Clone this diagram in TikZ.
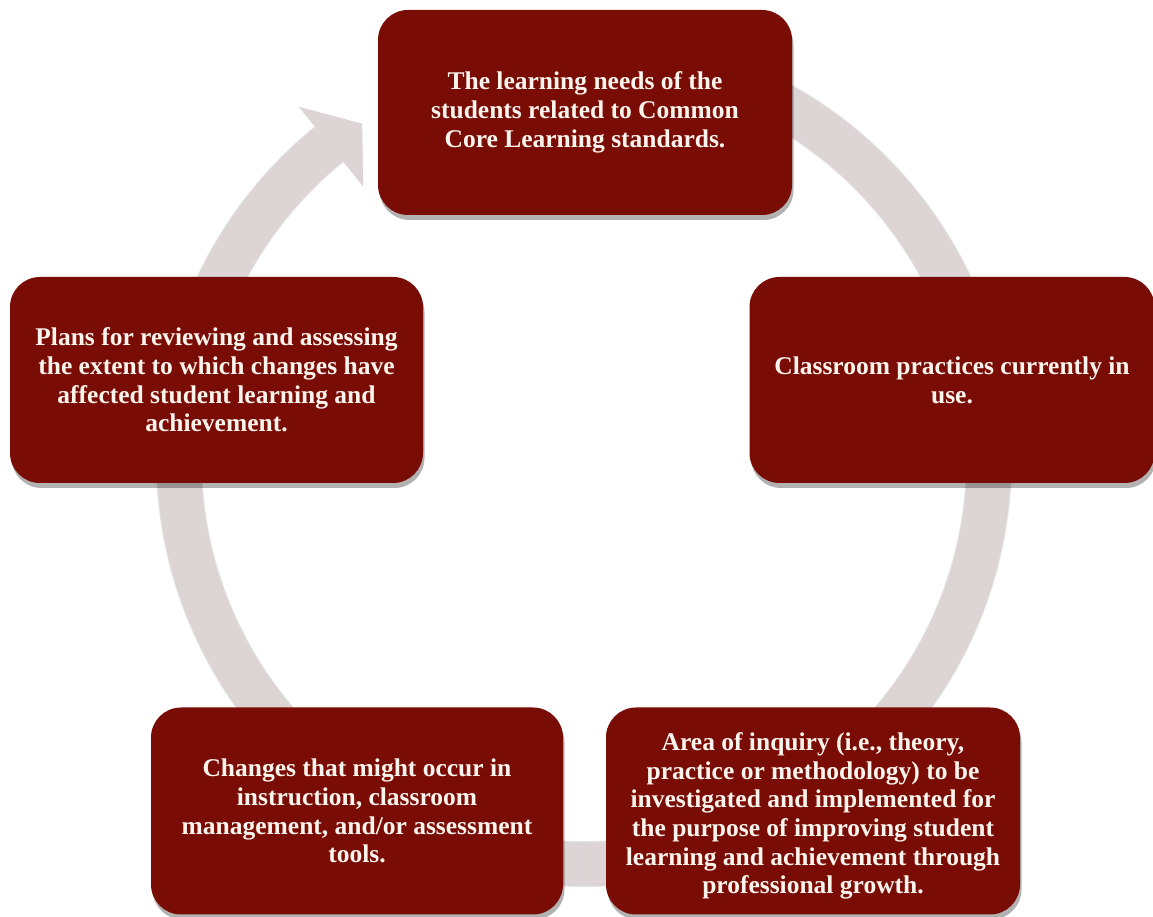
\documentclass[tikz,border=0pt]{standalone}
\usepackage{fontspec}
\setmainfont{Liberation Serif}
\usetikzlibrary{shadows,calc}
\definecolor{boxred}{RGB}{122,12,6}
\definecolor{ringcol}{RGB}{221,212,213}
\definecolor{txtcol}{RGB}{250,244,236}
\tikzset{
  box/.style={rounded corners=30pt, fill=boxred, draw=none, align=center,
    text=txtcol, font=\bfseries\fontsize{25.5}{28.8}\selectfont, inner sep=6pt,
    drop shadow={shadow xshift=1.5pt, shadow yshift=-5pt, opacity=0.3, fill=black}},
  ringline/.style={draw=ringcol, line width=44pt},
  ringshadow/.style={draw=black, opacity=0.1, line width=46pt},
}
\begin{document}
\begin{tikzpicture}[x=1pt,y=1pt]
\useasboundingbox (0,0) rectangle (1153,917);
\fill[white] (0,0) rectangle (1153,917);
\coordinate (c) at (584,458);
% ring shadow
\begin{scope}[xshift=3pt,yshift=-5pt]
\draw[ringshadow] (c) ++(80:405) arc[start angle=80, end angle=-231, radius=405pt];
\fill[black,opacity=0.1] ($(c)+(129:351)$) -- ($(c)+(129:453)$) -- ($(c)+(123.5:402)$) -- cycle;
\end{scope}
% ring
\draw[ringline] (c) ++(80:405) arc[start angle=80, end angle=-231, radius=405pt];
\fill[ringcol] ($(c)+(129:351)$) -- ($(c)+(129:453)$) -- ($(c)+(123.5:402)$) -- cycle;
% boxes
\node[box, minimum width=414pt, minimum height=205pt] (top) at (585,804.5)
  {The learning needs of the\\students related to Common\\Core Learning standards.};
\node[box, minimum width=405pt, minimum height=206pt] (right) at (952,537)
  {Classroom practices currently in\\use.};
\node[box, minimum width=414pt, minimum height=207pt] (bright) at (813,106)
  {};
\node[align=center, text=txtcol, font=\bfseries\fontsize{25.5}{28.6}\selectfont] (brighttext) at (813,101)
  {Area of inquiry (i.e., theory,\\practice or methodology) to be\\investigated and implemented for\\the purpose of improving student\\learning and achievement through\\professional growth.};
\node[box, minimum width=412pt, minimum height=207pt] (bleft) at (357,106)
  {Changes that might occur in\\instruction, classroom\\management, and/or assessment\\tools.};
\node[box, minimum width=413pt, minimum height=206pt] (left) at (216.5,537)
  {Plans for reviewing and assessing\\the extent to which changes have\\affected student learning and\\achievement.};
\end{tikzpicture}
\end{document}
